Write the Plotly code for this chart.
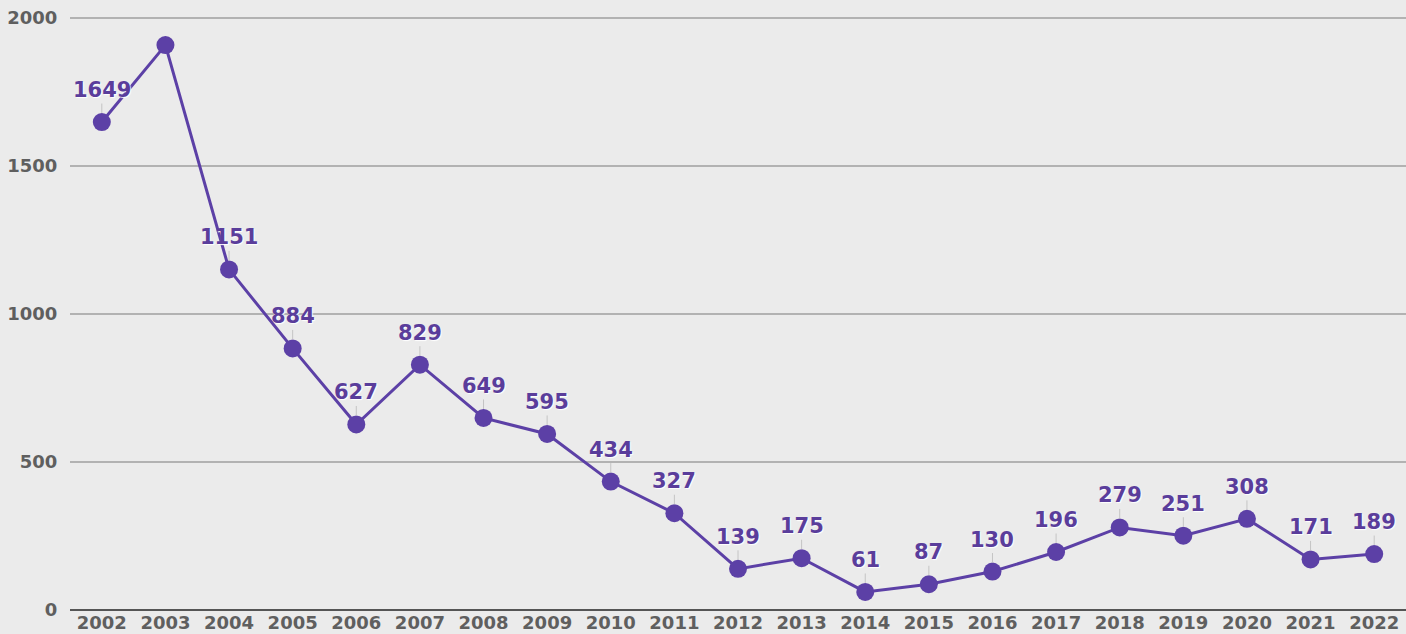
import plotly.graph_objects as go

years = [str(y) for y in range(2002, 2023)]
values = [1649, 1909, 1151, 884, 627, 829, 649, 595, 434, 327, 139, 175, 61, 87, 130, 196, 279, 251, 308, 171, 189]
labeled = [True, False] + [True] * 19
y_ticks = [0, 500, 1000, 1500, 2000]

purple = "#5c40a6"
label_color = "#5a3d9b"

fig = go.Figure()
fig.add_trace(go.Scatter(
    x=years, y=values, mode="lines+markers",
    line=dict(color=purple, width=3),
    marker=dict(color=purple, size=18),
    hoverinfo="x+y", showlegend=False,
))

for i, (v, show) in enumerate(zip(values, labeled)):
    if not show:
        continue
    fig.add_annotation(
        x=i, y=v, xref="x", yref="y", text=str(v),
        showarrow=True, arrowhead=0, arrowwidth=1, arrowcolor="#c4c4c4",
        ax=0, ay=-32, standoff=9,
        font=dict(family="DejaVu Sans", size=21, color=label_color, weight="bold",
                  shadow="1px 1px 1px white"),
    )

fig.update_layout(
    width=1406, height=634,
    margin=dict(l=70, r=0, t=17, b=24),
    paper_bgcolor="#ebebeb", plot_bgcolor="#ebebeb",
    font=dict(family="DejaVu Sans", color="#5f5f5f"),
)
fig.update_xaxes(
    type="category", range=[-0.5, len(years) - 0.5], showgrid=False, showline=False, ticks="",
    tickfont=dict(size=18, color="#5f5f5f", weight="bold"),
)
fig.update_yaxes(
    range=[0, 2004], tickvals=y_ticks, showgrid=True, gridcolor="#b2b2b2", gridwidth=1.5,
    zeroline=True, zerolinecolor="#555555", zerolinewidth=2,
    ticks="outside", ticklen=8, tickcolor="rgba(0,0,0,0)",
    tickfont=dict(size=18, color="#5f5f5f", weight="bold"),
)

fig.write_html("out.html", config={"displayModeBar": False},
               post_script="document.body.style.margin='0';document.body.style.overflow='hidden';")
